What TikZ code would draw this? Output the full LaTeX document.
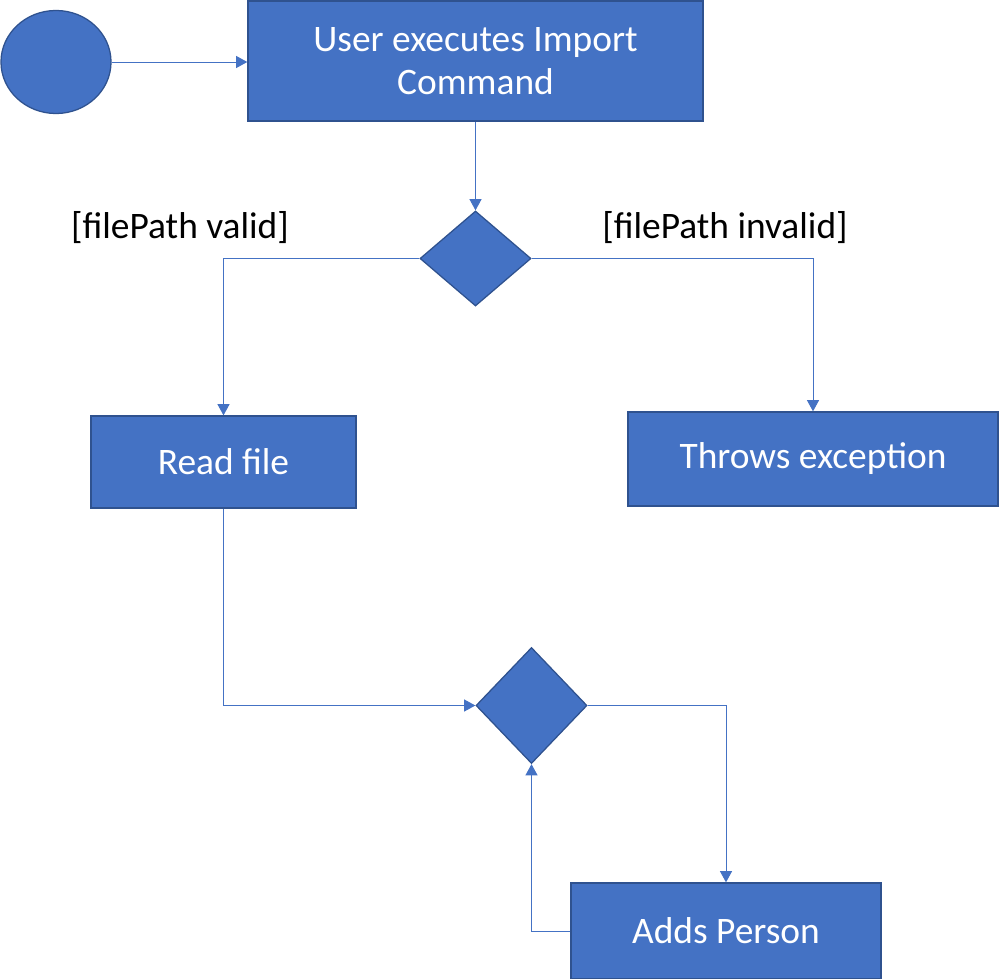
\documentclass[tikz,border=0pt]{standalone}
\usepackage{fontspec}
\setmainfont{Carlito}
\usetikzlibrary{shapes.geometric,arrows.meta}
\definecolor{boxblue}{HTML}{4472C4}
\definecolor{edgeblue}{HTML}{2F528F}
\tikzset{
  action/.style={rectangle, fill=boxblue, draw=edgeblue, line width=0.9pt, text=white,
    font=\fontsize{26.6}{31}\selectfont, align=center, inner sep=0pt},
  decision/.style={diamond, fill=boxblue, draw=edgeblue, line width=0.9pt, inner sep=0pt},
  flow/.style={draw=boxblue, line width=0.7pt, -{Triangle[length=0.28cm,width=0.3cm]}},
  guard/.style={font=\fontsize{26.6}{31}\selectfont, text=black}
}
\begin{document}
\begin{tikzpicture}[x=0.025cm, y=-0.025cm]
    \useasboundingbox (0,0) rectangle (999,979);

    % Nodes
    \node[ellipse, fill=boxblue, draw=edgeblue, line width=0.9pt, minimum width=2.75cm, minimum height=2.575cm] (start) at (56,62) {};
    \node[action, minimum width=11.375cm, minimum height=3cm] (import) at (475.5,61) {User executes Import\\Command};
    \node[decision, minimum width=2.775cm, minimum height=2.375cm] (check) at (475.5,258.5) {};
    \node[action, minimum width=6.625cm, minimum height=2.3cm] (read) at (223.5,462) {Read file};
    \node[action, minimum width=9.25cm, minimum height=2.35cm] (throws) at (813,459) {Throws exception};
    \node[decision, minimum width=2.775cm, minimum height=2.9cm] (loop) at (531.5,705.5) {};
    \node[action, minimum width=7.75cm, minimum height=2.4cm] (adds) at (726,931) {Adds Person};

    % Guards
    \node[guard] (valid) at (180,228) {[filePath valid]};
    \node[guard] (invalid) at (725,228) {[filePath invalid]};

    % Connectors
    \draw[flow] (start.east) -- (start.east -| import.west);
    \draw[flow] (import.south) -- (check.north);
    \draw[flow] (check.west) -| (read.north);
    \draw[flow] (check.east) -| (throws.north);
    \draw[flow] (read.south) |- (loop.west);
    \draw[flow] (loop.east) -| (adds.north);
    \draw[flow] (adds.west) -| (loop.south);
\end{tikzpicture}
\end{document}
